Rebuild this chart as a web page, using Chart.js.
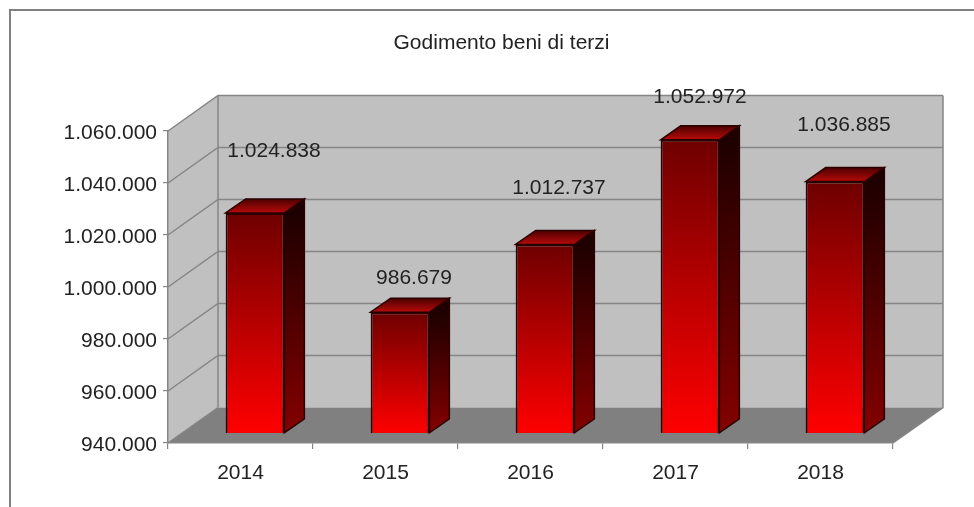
<!DOCTYPE html>
<html>
<head>
<meta charset="utf-8">
<title>Godimento beni di terzi</title>
<script src="https://cdn.jsdelivr.net/npm/chart.js@4/dist/chart.umd.min.js"></script>
<style>
  html, body { margin: 0; padding: 0; background: #fff; overflow: hidden; }
  canvas { display: block; filter: blur(0.4px); }
</style>
</head>
<body>
<canvas id="chart" width="974" height="507"></canvas>
<script>
// ── DATA ──
const years  = ['2014', '2015', '2016', '2017', '2018'];
const values = [1024838, 986679, 1012737, 1052972, 1036885];
const axisMin = 940000;
const axisMax = 1060000;
const axisStep = 20000;

// ── 3D LOOK ──
const WALL_DX = 50, WALL_DY = -35.5;   // depth of the walls
const BAR_DX  = 14.5, BAR_DY = -9.5;   // bars stand in the middle of the floor
const SIDE_DX = 20, SIDE_DY = -14;     // depth of one bar
const TITLE_SHIFT = 55;                // title is centred on the frame, not the canvas
const Y_LABEL_DROP = 2.5;              // y labels sit a little under their ticks

const GRAY_WALL  = '#c0c0c0';
const GRAY_FLOOR = '#808080';
const GRAY_LINE  = '#858585';
const BAR_EDGE   = '#2a0000';
const TEXT       = '#222222';
const FONT       = "'Liberation Sans', Arial, sans-serif";

// Hand placed data labels, relative to the front top of each bar
const labelShiftX = [19, 14, 14, 10, 9];
const labelShiftY = [-61.5, -33.5, -56.5, -42.5, -56.5];

const fmt = (v) => String(v).replace(/\B(?=(\d{3})+$)/g, '.');

function polygon(ctx, pts, fill, stroke, width) {
    ctx.beginPath();
    pts.forEach((p, i) => i ? ctx.lineTo(p[0], p[1]) : ctx.moveTo(p[0], p[1]));
    ctx.closePath();
    if (fill) { ctx.fillStyle = fill; ctx.fill(); }
    if (stroke) { ctx.strokeStyle = stroke; ctx.lineWidth = width; ctx.stroke(); }
}

function vGradient(ctx, y0, y1, c0, c1) {
    const g = ctx.createLinearGradient(0, y0, 0, y1);
    g.addColorStop(0, c0);
    g.addColorStop(1, c1);
    return g;
}

// ── WALLS, FLOOR, FRAME ──
const walls = {
    id: 'walls',
    afterLayout(chart) {
        chart.titleBlock.left += TITLE_SHIFT;
        chart.titleBlock.right += TITLE_SHIFT;
    },
    beforeDraw(chart) {
        const { ctx, chartArea: a, scales: { y } } = chart;
        const l = a.left, r = a.right, t = a.top, b = a.bottom;

        y.getLabelItems(a).forEach((item) => { item.options.translation[1] += Y_LABEL_DROP; });

        ctx.save();
        ctx.fillStyle = '#ffffff';
        ctx.fillRect(0, 0, chart.width, chart.height);

        // outer frame, runs off the picture on the right and at the bottom
        ctx.strokeStyle = '#808080';
        ctx.lineWidth = 2;
        ctx.beginPath();
        ctx.moveTo(10, chart.height);
        ctx.lineTo(10, 10);
        ctx.lineTo(chart.width, 10);
        ctx.stroke();

        polygon(ctx, [[l, t], [l + WALL_DX, t + WALL_DY], [l + WALL_DX, b + WALL_DY], [l, b]], GRAY_WALL);
        polygon(ctx, [[l + WALL_DX, t + WALL_DY], [r + WALL_DX, t + WALL_DY], [r + WALL_DX, b + WALL_DY], [l + WALL_DX, b + WALL_DY]], GRAY_WALL);
        polygon(ctx, [[l, b], [l + WALL_DX, b + WALL_DY], [r + WALL_DX, b + WALL_DY], [r, b]], GRAY_FLOOR);

        // gridlines go along the side wall and then the back wall
        ctx.strokeStyle = GRAY_LINE;
        ctx.lineWidth = 1.5;
        y.ticks.forEach((tk) => {
            const py = y.getPixelForValue(tk.value);
            ctx.beginPath();
            ctx.moveTo(l, py);
            ctx.lineTo(l + WALL_DX, py + WALL_DY);
            if (tk.value !== y.min) ctx.lineTo(r + WALL_DX, py + WALL_DY);
            ctx.stroke();
        });
        ctx.beginPath();
        ctx.moveTo(l + WALL_DX, t + WALL_DY);
        ctx.lineTo(l + WALL_DX, b + WALL_DY);
        ctx.moveTo(r + WALL_DX, t + WALL_DY);
        ctx.lineTo(r + WALL_DX, b + WALL_DY);
        ctx.lineTo(r, b);
        ctx.stroke();
        ctx.restore();
    },
    beforeDatasetsDraw(chart) {
        const { ctx } = chart;
        ctx.save();
        ctx.translate(BAR_DX, BAR_DY);
        // side and top faces of each bar, taken from the bar elements
        chart.getDatasetMeta(0).data.forEach((bar) => {
            const left = bar.x - bar.width / 2, right = bar.x + bar.width / 2;
            polygon(ctx,
                [[right, bar.y], [right + SIDE_DX, bar.y + SIDE_DY], [right + SIDE_DX, bar.base + SIDE_DY], [right, bar.base]],
                vGradient(ctx, bar.y, bar.base, '#1e0000', '#840000'), BAR_EDGE, 1.5);
            polygon(ctx,
                [[left, bar.y], [left + SIDE_DX, bar.y + SIDE_DY], [right + SIDE_DX, bar.y + SIDE_DY], [right, bar.y]],
                vGradient(ctx, bar.y + SIDE_DY, bar.y, '#4c0000', '#b80a0a'), BAR_EDGE, 1.5);
        });
    },
    afterDatasetsDraw(chart) {
        const { ctx } = chart;
        ctx.restore();
        ctx.save();
        ctx.font = '21px ' + FONT;
        ctx.fillStyle = TEXT;
        ctx.textAlign = 'center';
        ctx.textBaseline = 'middle';
        chart.getDatasetMeta(0).data.forEach((bar, i) => {
            ctx.fillText(fmt(values[i]), bar.x + BAR_DX + labelShiftX[i], bar.y + BAR_DY + labelShiftY[i]);
        });
        ctx.restore();
    }
};

// ── CHART ──
new Chart(document.getElementById('chart'), {
    type: 'bar',
    data: {
        labels: years,
        datasets: [{
            data: values,
            base: axisMin,
            clip: false,
            barPercentage: 0.405,
            categoryPercentage: 1,
            borderColor: BAR_EDGE,
            borderWidth: 2,
            backgroundColor: (c) => {
                const { ctx, chartArea, scales } = c.chart;
                if (!chartArea || c.raw === undefined) return '#c00000';
                return vGradient(ctx, scales.y.getPixelForValue(c.raw), chartArea.bottom, '#6e0000', '#ff0000');
            }
        }]
    },
    plugins: [walls],
    options: {
        responsive: false,
        animation: false,
        layout: { padding: { top: 30.4, left: 0, right: 81, bottom: 0 } },
        plugins: {
            legend: { display: false },
            tooltip: { enabled: false },
            title: {
                display: true,
                text: 'Godimento beni di terzi',
                color: TEXT,
                font: { family: FONT, size: 21, weight: 'normal' },
                padding: { top: 0, bottom: 75.4 }
            }
        },
        scales: {
            x: {
                afterFit: (s) => { s.height = 64; },
                grid: { offset: true, drawOnChartArea: false, color: GRAY_LINE, tickLength: 6, lineWidth: 1.2 },
                border: { color: GRAY_LINE, width: 1.5 },
                ticks: { color: TEXT, font: { family: FONT, size: 21 }, padding: 12, maxRotation: 0 }
            },
            y: {
                min: axisMin,
                max: axisMax,
                afterFit: (s) => { s.width = 168; },
                grid: { drawOnChartArea: false, color: GRAY_LINE, tickLength: 5, lineWidth: 1.2 },
                border: { color: GRAY_LINE, width: 1.5 },
                ticks: { stepSize: axisStep, color: TEXT, font: { family: FONT, size: 21 }, padding: 6, callback: (v) => fmt(v) }
            }
        }
    }
});
</script>
</body>
</html>
